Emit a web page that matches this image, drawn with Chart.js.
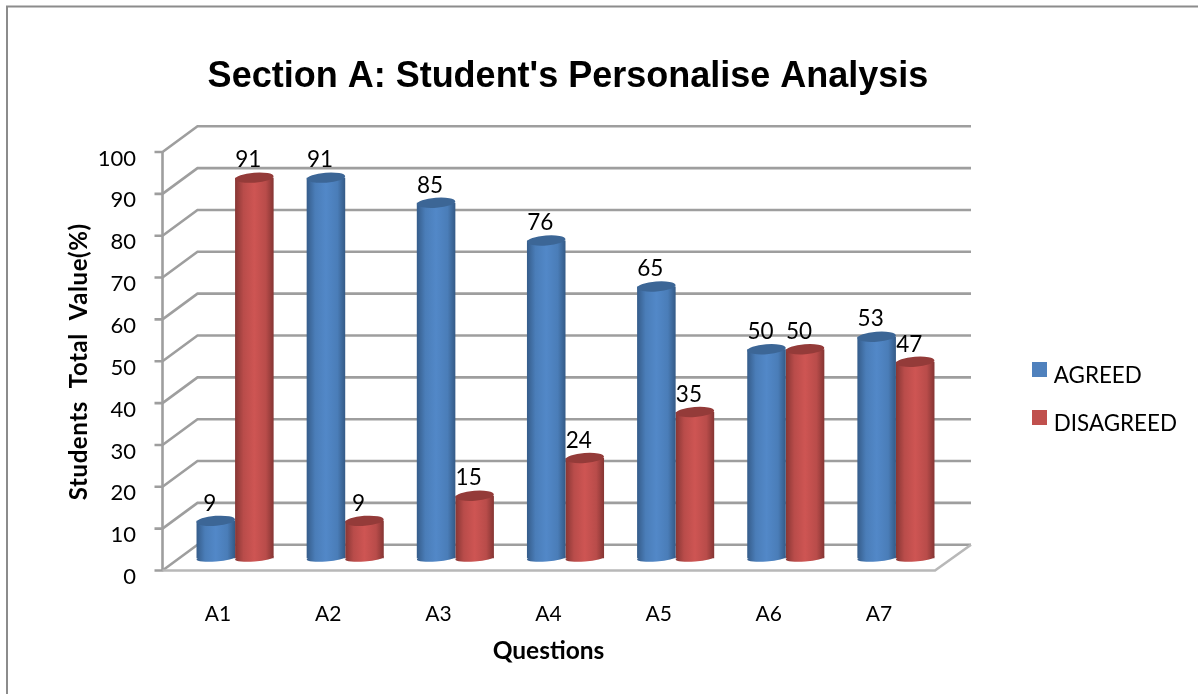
<!DOCTYPE html>
<html>
<head>
<meta charset="utf-8">
<style>html,body{margin:0;padding:0;background:#fff}canvas{display:block}</style>
<script src="https://cdn.jsdelivr.net/npm/chart.js@4/dist/chart.umd.js"></script>
</head>
<body>
<canvas id="chart" width="1198" height="694"></canvas>
<script>
const questions = ['A1', 'A2', 'A3', 'A4', 'A5', 'A6', 'A7'];
const agreed = [9, 91, 85, 76, 65, 50, 53];
const disagreed = [91, 9, 15, 24, 35, 50, 47];

const TEXT_FONT = 'Lato, Carlito, sans-serif';
const GROUP_SHARE = 0.70;

// Shades for each series: legend swatch, cylinder lid, cylinder body from edge to edge.
const BLUE = { flat: '#4F81BD', lid: '#3C6696', body: ['#355C8A', '#4A7DB8', '#5288C8', '#4A7DB8', '#345A86'] };
const RED = { flat: '#C0504D', lid: '#943B39', body: ['#873634', '#B94C4A', '#CE5553', '#B94C4A', '#853533'] };

function bodyGradient(context, left, width, shades) {
  const g = context.createLinearGradient(left, 0, left + width, 0);
  [0, 0.22, 0.5, 0.8, 1].forEach((stop, i) => g.addColorStop(stop, shades[i]));
  return g;
}

// Each bar gets its own left-to-right shading so it reads as a cylinder.
function cylinderFill(shade) {
  return (ctx) => {
    const xs = ctx.chart.scales && ctx.chart.scales.x;
    if (ctx.type !== 'data' || !xs || !xs.width) return shade.flat;
    const band = xs.getPixelForValue(1) - xs.getPixelForValue(0);
    const w = band * GROUP_SHARE / 2;
    const centre = xs.getPixelForValue(ctx.dataIndex);
    const left = ctx.datasetIndex === 0 ? centre - w : centre;
    return bodyGradient(ctx.chart.ctx, left, w, shade.body);
  };
}

// Perspective offsets of the floor and walls relative to the bars' own axis line.
const FRONT = { dx: -17.5, dy: 12 };
const BACK = { dx: 17.5, dxRight: 20, dy: -13.75 };

const perspectiveFrame = {
  id: 'perspectiveFrame',
  beforeDatasetsDraw(chart) {
    const { ctx, chartArea: area, scales: { y } } = chart;
    const left = area.left, right = area.right;
    ctx.save();
    ctx.lineCap = 'butt';
    ctx.strokeStyle = '#9E9E9E';
    ctx.lineWidth = 2.6;
    y.ticks.forEach((tick) => {
      const py = y.getPixelForValue(tick.value);
      ctx.beginPath();
      ctx.moveTo(left + FRONT.dx - 8, py + FRONT.dy);
      ctx.lineTo(left + FRONT.dx, py + FRONT.dy);
      ctx.lineTo(left + BACK.dx, py + BACK.dy);
      ctx.lineTo(right + BACK.dxRight, py + BACK.dy);
      ctx.stroke();
    });
    const top = y.getPixelForValue(100), zero = y.getPixelForValue(0);
    ctx.beginPath();
    ctx.moveTo(left + FRONT.dx, top + FRONT.dy);
    ctx.lineTo(left + FRONT.dx, zero + FRONT.dy);
    ctx.stroke();
    ctx.strokeStyle = '#B8B8B8';
    ctx.beginPath();
    ctx.moveTo(left + FRONT.dx, zero + FRONT.dy);
    ctx.lineTo(right + FRONT.dx + 1.5, zero + FRONT.dy);
    ctx.lineTo(right + BACK.dxRight, zero + BACK.dy);
    ctx.stroke();
    ctx.restore();
  },
  // Lid and rounded foot of each cylinder, drawn series by series to keep the overlap order.
  afterDatasetDraw(chart, args) {
    const { ctx } = chart;
    const shade = args.index === 0 ? BLUE : RED;
    const tilt = -0.075;
    args.meta.data.forEach((bar) => {
      const rx = bar.width / 2;
      const left = bar.x - rx;
      ctx.save();
      ctx.fillStyle = bodyGradient(ctx, left, bar.width, shade.body);
      ctx.beginPath();
      ctx.ellipse(bar.x, bar.base - 0.5, rx, 3.5, tilt, 0, Math.PI * 2);
      ctx.fill();
      ctx.fillStyle = shade.lid;
      ctx.beginPath();
      ctx.ellipse(bar.x, bar.y, rx, 5, tilt, 0, Math.PI * 2);
      ctx.fill();
      ctx.restore();
    });
  },
  afterDatasetsDraw(chart) {
    const { ctx } = chart;
    ctx.save();
    ctx.font = '22.5px ' + TEXT_FONT;
    ctx.fillStyle = '#000';
    ctx.textAlign = 'center';
    ctx.textBaseline = 'middle';
    chart.data.datasets.forEach((set, i) => {
      chart.getDatasetMeta(i).data.forEach((bar, j) => {
        ctx.fillText(String(set.data[j]), bar.x - 6, bar.y - 17.5);
      });
    });
    ctx.restore();
  }
};

// Sheet border, legend swatches and placement of the title blocks.
const sheetDecor = {
  id: 'sheetDecor',
  beforeDraw(chart) {
    const { ctx, width, height } = chart;
    ctx.save();
    ctx.fillStyle = '#fff';
    ctx.fillRect(0, 0, width, height);
    ctx.strokeStyle = '#8C8C8C';
    ctx.lineWidth = 2;
    ctx.beginPath();
    ctx.moveTo(7, height);
    ctx.lineTo(7, 6.5);
    ctx.lineTo(width, 6.5);
    ctx.stroke();
    ctx.restore();
  },
  afterLayout(chart) {
    const legend = chart.legend;
    legend.left = 1017;
    legend.right = 1198;
    legend.top = 338.5;
    legend.bottom = 480;
    chart.titleBlock.left = 0;
    chart.titleBlock.right = 1136;
    shiftTitle(chart.scales.y, 65, 12.5, '0.6px');
    shiftTitle(chart.scales.x, -17, -28, '0px');
  },
  afterDraw(chart) {
    const { ctx } = chart;
    ctx.save();
    [BLUE, RED].forEach((shade, i) => {
      ctx.fillStyle = shade.flat;
      ctx.fillRect(1032, 362 + i * 48, 15, 15);
    });
    ctx.restore();
  }
};

function shiftTitle(scale, dx, dy, spacing) {
  const base = Object.getPrototypeOf(scale).drawTitle;
  scale.drawTitle = function () {
    this.ctx.save();
    this.ctx.translate(dx, dy);
    this.ctx.letterSpacing = spacing;
    base.call(this);
    this.ctx.restore();
  };
}

new Chart(document.getElementById('chart'), {
  type: 'bar',
  data: {
    labels: questions,
    datasets: [
      { label: 'AGREED', data: agreed, backgroundColor: cylinderFill(BLUE) },
      { label: 'DISAGREED', data: disagreed, backgroundColor: cylinderFill(RED) }
    ]
  },
  plugins: [sheetDecor, perspectiveFrame],
  options: {
    responsive: false,
    animation: false,
    layout: { padding: { left: 0, right: 147, top: 0, bottom: 0 } },
    datasets: { bar: { categoryPercentage: GROUP_SHARE, barPercentage: 1, borderWidth: 0 } },
    plugins: {
      tooltip: { enabled: false },
      title: {
        display: true,
        text: "Section A: Student's Personalise Analysis",
        color: '#000',
        font: { family: '"Liberation Sans", Arial, sans-serif', size: 36, weight: 'bold', lineHeight: 1.2 },
        padding: { top: 55, bottom: 41.8 }
      },
      legend: {
        position: 'right',
        align: 'start',
        maxWidth: 100,
        labels: {
          boxWidth: 0,
          boxHeight: 0,
          padding: 25.6,
          color: '#000',
          font: { family: TEXT_FONT, size: 22.4 }
        }
      }
    },
    scales: {
      x: {
        grid: { display: false },
        border: { display: false },
        ticks: { color: '#000', font: { family: TEXT_FONT, size: 21 }, padding: 35, labelOffset: -17, maxRotation: 0 },
        title: { display: true, text: 'Questions', color: '#000', font: { family: TEXT_FONT, size: 24.5, weight: 'bold' }, padding: { top: 6, bottom: 0 } },
        afterFit(scale) { scale.height = 135.5; }
      },
      y: {
        min: 0,
        max: 100,
        grid: { display: false },
        border: { display: false },
        ticks: { stepSize: 10, color: '#000', font: { family: TEXT_FONT, size: 22 }, padding: 36, labelOffset: 18.5 },
        title: { display: true, text: 'Students  Total  Value(%)', color: '#000', font: { family: TEXT_FONT, size: 24, weight: 'bold' }, padding: { top: 0, bottom: 0 } },
        afterFit(scale) { scale.width = 180; }
      }
    }
  }
});
</script>
</body>
</html>
